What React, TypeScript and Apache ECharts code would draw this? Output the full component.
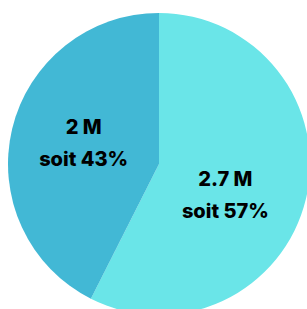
import React, { useEffect, useRef } from "react";
import * as echarts from "echarts";

const categories = ["2.7 M", "2 M"];
const values = [2.7, 2.0];
const percents = ["57%", "43%"];
const colors = ["#6ae5e8", "#42b8d5"];

export default function App() {
  const ref = useRef<HTMLDivElement>(null);
  useEffect(() => {
    if (!ref.current) return;
    const chart = echarts.init(ref.current, undefined, { renderer: "svg" });
    const offsets = [[-10, 13], [1, -3]];
    chart.setOption({
      animation: false,
      series: [
        {
          type: "pie",
          center: [159, 164],
          radius: [0, 151],
          startAngle: 90,
          clockwise: true,
          silent: true,
          data: categories.map((c, i) => ({
            name: c,
            value: values[i],
            itemStyle: { color: colors[i] },
            label: { offset: offsets[i] },
          })),
          label: {
            show: true,
            position: "inside",
            formatter: (p: any) => `${p.name}\nsoit ${percents[p.dataIndex]}`,
            color: "#000",
            fontFamily: "Inter",
            fontWeight: 800,
            fontSize: 20,
            lineHeight: 32,
          },
          labelLine: { show: false },
        },
      ],
    });
    return () => chart.dispose();
  }, []);
  return (
    <div
      ref={ref}
      style={{ position: "fixed", left: 0, top: 0, width: 307, height: 309, background: "#fff" }}
    />
  );
}
